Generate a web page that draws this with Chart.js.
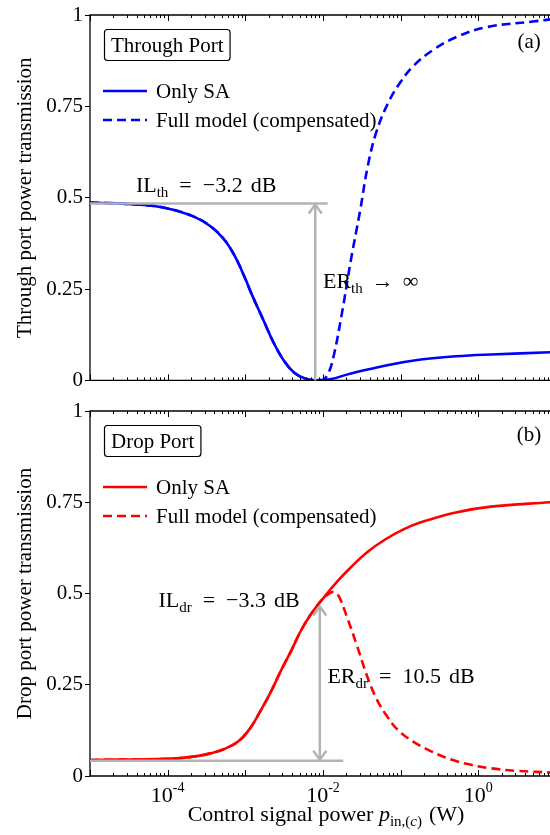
<!DOCTYPE html>
<html>
<head>
<meta charset="utf-8">
<script src="https://cdn.jsdelivr.net/npm/chart.js@4.4.1/dist/chart.umd.min.js"></script>
<style>
html,body{margin:0;padding:0;overflow:hidden;background:#fff;width:550px;height:835px;}
canvas{position:absolute;left:0;}
#c1{top:0;}
#c2{top:395px;}
</style>
</head>
<body>
<canvas id="c1" width="556" height="395"></canvas>
<canvas id="c2" width="556" height="440"></canvas>
<script>
// ---------- data ----------
const xThroughSA   = [1e-5, 4.37e-5, 9.33e-5, 2.14e-4, 3.55e-4, 5.37e-4, 7.41e-4, 1.0e-3, 1.23e-3, 1.70e-3, 2.29e-3, 3.16e-3, 4.27e-3, 5.89e-3, 7.94e-3, 1.23e-2, 2.29e-2, 6.46e-2, 0.182, 0.513, 1.45, 8.32, 10];
const yThroughSA   = [0.487, 0.481, 0.472, 0.449, 0.422, 0.385, 0.338, 0.278, 0.232, 0.166, 0.105, 0.053, 0.021, 0.005, 0.000, 0.003, 0.019, 0.041, 0.057, 0.066, 0.071, 0.077, 0.078];
const xThroughFull = [1e-5, 4.37e-5, 9.33e-5, 2.14e-4, 3.55e-4, 5.37e-4, 7.41e-4, 1.0e-3, 1.23e-3, 1.70e-3, 2.29e-3, 3.16e-3, 4.27e-3, 5.89e-3, 7.94e-3, 1.0e-2, 1.15e-2, 1.35e-2, 1.74e-2, 2.29e-2, 2.99e-2, 3.80e-2, 4.90e-2, 6.92e-2, 9.77e-2, 0.145, 0.26, 0.525, 1.29, 5.01, 10];
const yThroughFull = [0.487, 0.481, 0.472, 0.449, 0.422, 0.385, 0.338, 0.278, 0.232, 0.166, 0.105, 0.053, 0.021, 0.005, 0.000, 0.002, 0.016, 0.060, 0.180, 0.330, 0.462, 0.590, 0.682, 0.760, 0.814, 0.860, 0.904, 0.940, 0.967, 0.982, 0.990];

const xDropSA   = [1e-5, 1e-4, 2.14e-4, 3.55e-4, 5.37e-4, 8.13e-4, 1.12e-3, 1.51e-3, 2.09e-3, 2.82e-3, 3.89e-3, 5.25e-3, 7.24e-3, 1.0e-2, 1.48e-2, 2.29e-2, 3.80e-2, 6.31e-2, 0.107, 0.182, 0.513, 1.45, 8.32, 10];
const yDropSA   = [0.044, 0.047, 0.053, 0.062, 0.074, 0.095, 0.127, 0.172, 0.227, 0.285, 0.343, 0.400, 0.448, 0.486, 0.530, 0.572, 0.615, 0.648, 0.675, 0.695, 0.722, 0.738, 0.750, 0.751];
const xDropFull = [1e-5, 1e-4, 2.14e-4, 3.55e-4, 5.37e-4, 8.13e-4, 1.12e-3, 1.51e-3, 2.09e-3, 2.82e-3, 3.89e-3, 5.25e-3, 7.24e-3, 1.0e-2, 1.2e-2, 1.41e-2, 1.62e-2, 2.0e-2, 2.75e-2, 3.72e-2, 4.90e-2, 6.61e-2, 9.12e-2, 0.145, 0.251, 0.447, 0.759, 1.45, 3.16, 10];
const yDropFull = [0.044, 0.047, 0.053, 0.062, 0.074, 0.095, 0.127, 0.172, 0.227, 0.285, 0.343, 0.400, 0.448, 0.486, 0.500, 0.504, 0.490, 0.440, 0.356, 0.272, 0.211, 0.165, 0.127, 0.094, 0.067, 0.045, 0.032, 0.021, 0.014, 0.009];

const yTickValues = [0, 0.25, 0.5, 0.75, 1];
const yTickLabels = ['0', '0.25', '0.5', '0.75', '1'];
const xTickLabelValues = [1e-4, 1e-2, 1];
const xTickLabelExps = ['-4', '-2', '0'];
const seriesLabels = ['Only SA', 'Full model (compensated)'];

// ---------- styling ----------
const FONT = '"Liberation Serif", "Times New Roman", serif';
const FS = 21;
const AFS = 22;
const GRAY = '#b3b3b3';

function zip(xs, ys) { return xs.map((x, i) => ({x: x, y: ys[i]})); }

function drawRich(ctx, x, y, parts, align) {
  ctx.save();
  ctx.textBaseline = 'alphabetic';
  ctx.textAlign = 'left';
  let total = 0;
  const ws = parts.map(p => {
    if (p.gap) return p.gap;
    ctx.font = (p.italic ? 'italic ' : '') + (p.size || FS) + 'px ' + FONT;
    return ctx.measureText(p.t).width;
  });
  ws.forEach(w => total += w);
  let cx = align === 'center' ? x - total / 2 : (align === 'right' ? x - total : x);
  parts.forEach((p, i) => {
    if (!p.gap) {
      ctx.font = (p.italic ? 'italic ' : '') + (p.size || FS) + 'px ' + FONT;
      ctx.fillStyle = '#000';
      ctx.fillText(p.t, cx, y + (p.dy || 0));
    }
    cx += ws[i];
  });
  ctx.restore();
}

function line(ctx, x1, y1, x2, y2) {
  ctx.beginPath(); ctx.moveTo(x1, y1); ctx.lineTo(x2, y2); ctx.stroke();
}

const panelPlugin = {
  id: 'panel',
  afterDraw(chart) {
    const o = chart.options.plugins.panel;
    const ctx = chart.ctx;
    const a = chart.chartArea;
    const xs = chart.scales.x, ys = chart.scales.y;
    ctx.save();
    // frame
    ctx.strokeStyle = '#000';
    ctx.lineWidth = 1.3;
    ctx.beginPath();
    ctx.moveTo(a.left, a.top); ctx.lineTo(a.right, a.top); ctx.lineTo(a.right, a.bottom); ctx.lineTo(a.left, a.bottom); ctx.closePath();
    ctx.stroke();
    // x ticks (log), inward on bottom and top
    ctx.lineWidth = 1;
    for (let d = -5; d <= 1; d++) {
      for (let m = 1; m <= 9; m++) {
        const v = m * Math.pow(10, d);
        if (v > xs.max * 1.0001) break;
        const px = Math.round(xs.getPixelForValue(v)) + 0.5;
        const len = m === 1 ? 6 : 3;
        line(ctx, px, a.bottom, px, a.bottom - len);
        line(ctx, px, a.top, px, a.top + len);
      }
    }
    // y ticks on right side (inward)
    yTickValues.forEach(v => {
      const py = ys.getPixelForValue(v);
      line(ctx, a.right, py, a.right - 5, py);
    });

    // annotations (gray)
    ctx.strokeStyle = GRAY;
    ctx.lineWidth = 2.5;
    const hy = ys.getPixelForValue(o.hLine.y);
    line(ctx, a.left, hy, xs.getPixelForValue(o.hLine.xEnd), hy);
    const ax = xs.getPixelForValue(o.arrow.x);
    const ay1 = ys.getPixelForValue(o.arrow.y1);
    const ay2 = ys.getPixelForValue(o.arrow.y2);
    line(ctx, ax, ay1, ax, ay2);
    const head = (tx, ty, dir) => {
      ctx.beginPath();
      ctx.moveTo(tx - 6.5, ty + dir * 9);
      ctx.lineTo(tx, ty);
      ctx.lineTo(tx + 6.5, ty + dir * 9);
      ctx.stroke();
    };
    head(ax, ay2 + 1, 1);
    if (o.arrow.both) head(ax, ay1 - 1, -1);

    // annotation texts
    o.texts.forEach(t => {
      drawRich(ctx, xs.getPixelForValue(t.x), ys.getPixelForValue(t.y), t.parts, t.align || 'left');
    });

    // legend
    const lx = a.left + 14, ly = a.top + 14;
    ctx.font = FS + 'px ' + FONT;
    const tw = ctx.measureText(o.title).width;
    const bw = tw + 13, bh = 31;
    ctx.strokeStyle = '#000';
    ctx.lineWidth = 1.2;
    ctx.beginPath();
    if (ctx.roundRect) ctx.roundRect(lx + 0.5, ly + 0.5, bw, bh, 3); else ctx.rect(lx + 0.5, ly + 0.5, bw, bh);
    ctx.fillStyle = '#fff';
    ctx.fill();
    ctx.stroke();
    ctx.fillStyle = '#000';
    ctx.textBaseline = 'alphabetic';
    ctx.textAlign = 'left';
    ctx.fillText(o.title, lx + 7, ly + 23);
    const rows = [ly + 62, ly + 91];
    chart.data.datasets.forEach((ds, i) => {
      ctx.strokeStyle = ds.borderColor;
      ctx.lineWidth = ds.borderWidth;
      ctx.setLineDash(ds.borderDash || []);
      line(ctx, lx - 1, rows[i], lx + 43, rows[i]);
      ctx.setLineDash([]);
      ctx.fillStyle = '#000';
      ctx.textBaseline = 'middle';
      ctx.fillText(ds.label, lx + 52, rows[i] + 1);
    });

    // panel tag
    ctx.textBaseline = 'middle';
    ctx.textAlign = 'center';
    ctx.fillText(o.tag, xs.getPixelForValue(o.tagPos.x), ys.getPixelForValue(o.tagPos.y));

    // y title
    ctx.save();
    ctx.translate(25, (a.top + a.bottom) / 2);
    ctx.rotate(-Math.PI / 2);
    ctx.textAlign = 'center';
    ctx.textBaseline = 'middle';
    ctx.font = FS + 'px ' + FONT;
    ctx.fillText(o.yTitle, 0, 0);
    ctx.restore();

    // x tick labels and x title (bottom panel only)
    if (o.xLabels) {
      xTickLabelValues.forEach((v, i) => {
        const px = xs.getPixelForValue(v);
        drawRich(ctx, px, a.bottom + 26, [
          {t: '10', size: 22},
          {t: xTickLabelExps[i], size: 14, dy: -10}
        ], 'center');
      });
      drawRich(ctx, 326, a.bottom + 45, [
        {t: 'Control signal power ', size: 22},
        {t: 'p', size: 22, italic: true},
        {t: 'in,(', size: 15, dy: 5},
        {t: 'c', size: 15, dy: 5, italic: true},
        {t: ')', size: 15, dy: 5},
        {gap: 7},
        {t: '(W)', size: 22}
      ], 'center');
    }
    ctx.restore();
  }
};

function makeChart(id, dsSA, dsFull, color, panelOpts, padTop, xHeight) {
  return new Chart(document.getElementById(id), {
    type: 'line',
    data: {
      datasets: [
        {label: seriesLabels[0], data: dsSA, borderColor: color, borderWidth: 2.6, pointRadius: 0, fill: false, tension: 0.4},
        {label: seriesLabels[1], data: dsFull, borderColor: color, borderWidth: 2.6, borderDash: [9, 5], pointRadius: 0, fill: false, tension: 0.4}
      ]
    },
    options: {
      responsive: false,
      animation: false,
      parsing: true,
      layout: {padding: {top: padTop, left: 0, right: 0, bottom: 0}},
      plugins: {legend: {display: false}, tooltip: {enabled: false}, panel: panelOpts},
      scales: {
        x: {
          type: 'logarithmic', min: 1e-5, max: 10,
          ticks: {display: false},
          grid: {display: false},
          border: {display: false},
          afterFit(s) { s.height = xHeight; }
        },
        y: {
          min: 0, max: 1,
          afterBuildTicks(s) { s.ticks = yTickValues.map(v => ({value: v})); },
          ticks: {
            color: '#000',
            font: {family: FONT, size: FS},
            padding: 2,
            callback(v) { const i = yTickValues.indexOf(v); return i >= 0 ? yTickLabels[i] : ''; }
          },
          grid: {display: true, drawOnChartArea: false, drawTicks: true, tickLength: 5, color: '#000', lineWidth: 1},
          border: {display: false},
          afterFit(s) { s.width = 90; }
        }
      }
    },
    plugins: [panelPlugin]
  });
}

makeChart('c1', zip(xThroughSA, yThroughSA), zip(xThroughFull, yThroughFull), '#0000ff', {
  title: 'Through Port',
  tag: '(a)', tagPos: {x: 4.5, y: 0.926},
  yTitle: 'Through port power transmission',
  hLine: {y: 0.484, xEnd: 1.15e-2},
  arrow: {x: 7.94e-3, y1: 0, y2: 0.484, both: false},
  texts: [
    {x: 3.9e-5, y: 0.516, parts: [{t: 'IL', size: AFS}, {t: 'th', size: 15, dy: 5}, {gap: 11}, {t: '=', size: AFS}, {gap: 11}, {t: '−3.2', size: AFS}, {gap: 8}, {t: 'dB', size: AFS}]},
    {x: 1.0e-2, y: 0.254, parts: [{t: 'ER', size: AFS}, {t: 'th', size: 15, dy: 5}, {gap: 9}, {t: '→', size: AFS}, {gap: 9}, {t: '∞', size: AFS}]}
  ],
  xLabels: false
}, 15, 14);

makeChart('c2', zip(xDropSA, yDropSA), zip(xDropFull, yDropFull), '#ff0000', {
  title: 'Drop Port',
  tag: '(b)', tagPos: {x: 4.5, y: 0.932},
  yTitle: 'Drop port power transmission',
  hLine: {y: 0.042, xEnd: 1.82e-2},
  arrow: {x: 9.1e-3, y1: 0.042, y2: 0.467, both: true},
  texts: [
    {x: 7.6e-5, y: 0.463, parts: [{t: 'IL', size: AFS}, {t: 'dr', size: 15, dy: 5}, {gap: 11}, {t: '=', size: AFS}, {gap: 11}, {t: '−3.3', size: AFS}, {gap: 8}, {t: 'dB', size: AFS}]},
    {x: 1.14e-2, y: 0.255, parts: [{t: 'ER', size: AFS}, {t: 'dr', size: 15, dy: 5}, {gap: 11}, {t: '=', size: AFS}, {gap: 11}, {t: '10.5', size: AFS}, {gap: 8}, {t: 'dB', size: AFS}]}
  ],
  xLabels: true
}, 16, 59);
</script>
</body>
</html>
